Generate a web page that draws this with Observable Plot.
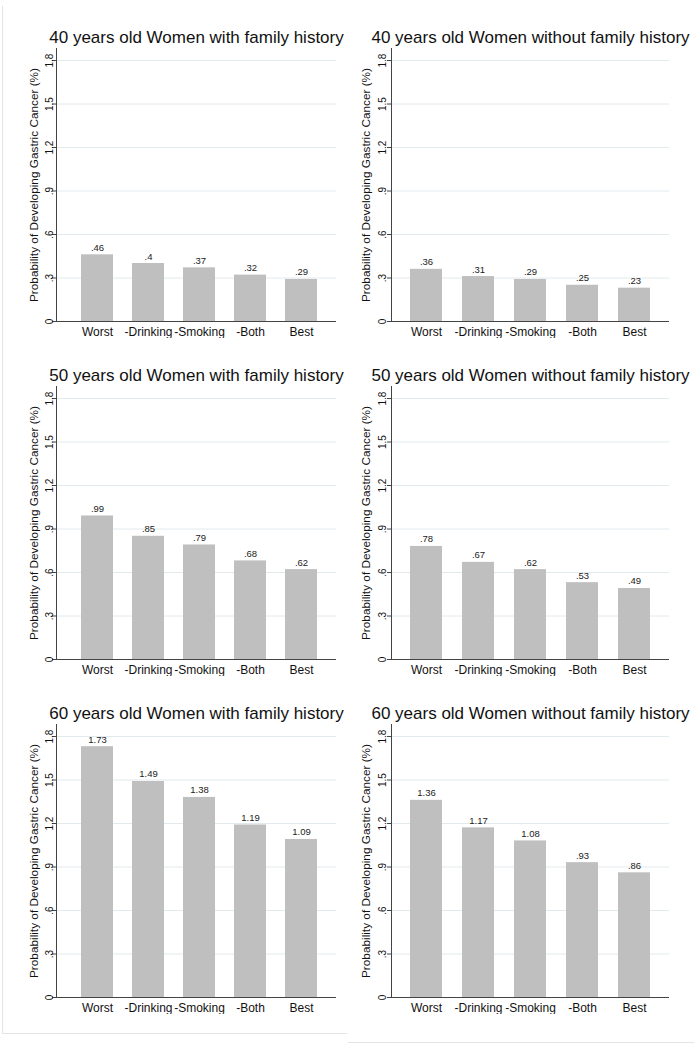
<!DOCTYPE html>
<html>
<head>
<meta charset="utf-8">
<script src="https://cdn.jsdelivr.net/npm/d3@7"></script>
<script src="https://cdn.jsdelivr.net/npm/@observablehq/plot@0.6"></script>
<style>
  html, body { margin: 0; padding: 0; background: #ffffff; }
  #page { position: relative; width: 696px; height: 1044px; overflow: hidden; background: #fff; }
  .panel { position: absolute; }
  .bl { position: absolute; background: #e4e4e4; }
</style>
</head>
<body>
<div id="page"></div>
<script>
// ---- data ----
const categories = ["Worst", "-Drinking", "-Smoking", "-Both", "Best"];
const titles = [
  "40 years old Women with family history",
  "40 years old Women without family history",
  "50 years old Women with family history",
  "50 years old Women without family history",
  "60 years old Women with family history",
  "60 years old Women without family history"
];
const values40With    = [0.46, 0.40, 0.37, 0.32, 0.29];
const values40Without = [0.36, 0.31, 0.29, 0.25, 0.23];
const values50With    = [0.99, 0.85, 0.79, 0.68, 0.62];
const values50Without = [0.78, 0.67, 0.62, 0.53, 0.49];
const values60With    = [1.73, 1.49, 1.38, 1.19, 1.09];
const values60Without = [1.36, 1.17, 1.08, 0.93, 0.86];
const yTicks = [0, 0.3, 0.6, 0.9, 1.2, 1.5, 1.8];
const yLabel = "Probability of Developing Gastric Cancer (%)";

const seriesList = [values40With, values40Without, values50With, values50Without, values60With, values60Without];

// Stata-like number format: drop leading zero
const fmt = v => String(+v.toFixed(2)).replace(/^0\./, ".");

const page = document.getElementById("page");
const FONT = "'Liberation Sans', Arial, Helvetica, sans-serif";

seriesList.forEach((vals, i) => {
  const col = i % 2, row = Math.floor(i / 2);
  const data = categories.map((c, j) => ({cat: c, value: vals[j]}));
  const right = col === 1;
  const chart = Plot.plot({
    width: 348,
    height: 338,
    marginLeft: right ? 43 : 56,
    marginRight: right ? 27 : 12,
    marginTop: 48,
    marginBottom: 17,
    style: {fontFamily: FONT, background: "transparent", color: "#111"},
    x: {domain: categories,
        paddingInner: right ? 0.393 : 0.381,
        paddingOuter: right ? 0.365 : 0.398,
        align: right ? 0.5 : 0.56, label: null},
    y: {domain: [0, 1.883], label: null},
    marks: [
      Plot.gridY(yTicks.slice(1), {stroke: "#e2eaed", strokeOpacity: 1, strokeWidth: 1}),
      Plot.barY(data, {x: "cat", y: "value", fill: "#bfbfbf"}),
      Plot.frame({anchor: "left", stroke: "#444", strokeWidth: 1}),
      Plot.ruleY([0], {stroke: "#444", strokeWidth: 1}),
      Plot.axisY({ticks: yTicks, tickSize: 4, tickPadding: right ? 1.5 : 0, tickRotate: -90,
                  tickFormat: fmt, fontSize: 10, stroke: "#444", label: null}),
      Plot.axisX({tickSize: 0, tickPadding: 6, fontSize: 12, label: null}),
      Plot.text(data, {x: "cat", y: "value", text: d => fmt(d.value), dy: -4,
                       lineAnchor: "bottom", fontSize: 9.5, fill: "#222"}),
      Plot.text([yLabel], {frameAnchor: "left", rotate: -90, dx: right ? -22 : -19,
                           lineAnchor: "bottom", textAnchor: "middle", fontSize: 11.8, fill: "#111"}),
      Plot.text([titles[i]], {frameAnchor: "top", dy: -6, lineAnchor: "bottom",
                              fontSize: 17, fill: "#111"})
    ]
  });
  const wrap = document.createElement("div");
  wrap.className = "panel";
  wrap.style.left = (col * 348) + "px";
  wrap.style.top = (row * 338) + "px";
  wrap.appendChild(chart);
  page.appendChild(wrap);
});

// faint outer borders of the graph regions
[["2px","6px","1px","1027px"], ["2px","1033px","345px","1px"], ["348px","1042px","346px","1px"]].forEach(([l,t,w,h]) => {
  const b = document.createElement("div");
  b.className = "bl";
  b.style.left = l; b.style.top = t; b.style.width = w; b.style.height = h;
  page.appendChild(b);
});
</script>
</body>
</html>
